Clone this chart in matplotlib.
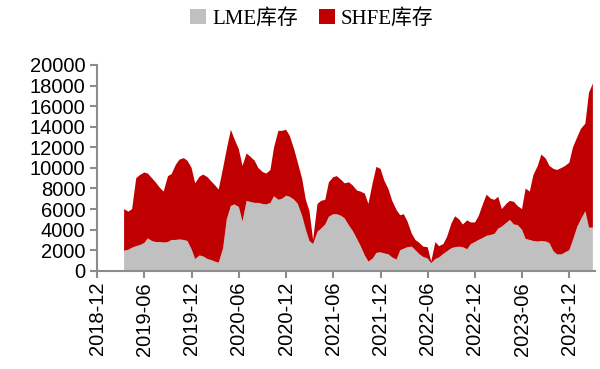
import numpy as np
import pandas as pd
import matplotlib
matplotlib.use("Agg")
import matplotlib.pyplot as plt
import matplotlib.dates as mdates
from matplotlib.patches import Patch
from matplotlib.font_manager import FontProperties

# semi-monthly points, 2019-03-15 .. 2024-03-01
dates = pd.date_range("2019-03-15", "2024-03-01", freq="SMS")

lme = [1950, 2050, 2250, 2400, 2500, 2700, 3150, 2900, 2800, 2800,
       2750, 2800, 3000, 3000, 3050, 3000, 2900, 2100, 1150, 1500,
       1400, 1150, 1050, 900, 800, 2200, 5000, 6300, 6450, 6200,
       4800, 6800, 6700, 6600, 6600, 6500, 6450, 6600, 7250, 6900,
       7000, 7300, 7200, 6900, 6500, 5300, 4000, 2900, 2600, 3800,
       4100, 4500, 5250, 5500, 5500, 5350, 5100, 4400, 3900, 3100,
       2400, 1500, 900, 1200, 1750, 1800, 1700, 1600, 1300, 1100,
       2000, 2150, 2300, 2350, 2000, 1600, 1350, 1200, 750, 1150,
       1300, 1650, 1900, 2200, 2300, 2350, 2300, 2100, 2600, 2800,
       3000, 3200, 3400, 3500, 3600, 4100, 4300, 4650, 4950, 4500,
       4450, 4000, 3100, 3000, 2900, 2850, 2900, 2850, 2700, 1900,
       1600, 1600, 1800, 2000, 3000, 4300, 5000, 5800, 4200, 4200]

shfe = [4050, 3700, 3750, 6600, 6800, 6850, 6300, 6100, 5800, 5250,
        4950, 6400, 6400, 7300, 7750, 7950, 7800, 7900, 7350, 7650,
        7950, 7950, 7650, 7400, 7100, 7800, 6800, 7400, 6350, 5600,
        5400, 4600, 4400, 4100, 3400, 3100, 3000, 3200, 4750, 6700,
        6600, 6400, 5900, 4900, 4000, 3600, 2900, 2900, 400, 2700,
        2700, 2400, 3350, 3600, 3700, 3500, 3400, 4200, 4400, 4700,
        5300, 6000, 5600, 7400, 8350, 8100, 7100, 6300, 5500, 4800,
        3400, 3350, 2500, 1250, 1000, 1100, 1000, 1100, 150, 1650,
        1100, 950, 1400, 2400, 3000, 2650, 2200, 2800, 2100, 1900,
        2300, 3300, 4000, 3500, 3300, 3100, 1700, 1850, 1850, 2200,
        1850, 2000, 4900, 4700, 6400, 7350, 8400, 8050, 7500, 8000,
        8200, 8400, 8400, 8500, 9000, 8700, 8800, 8500, 13100, 14000]

labels = ["LME库存", "SHFE库存"]
colors = ["#C0C0C0", "#C00000"]

plt.rcParams['font.family'] = ['Liberation Sans', 'Noto Sans CJK SC']

fig = plt.figure(figsize=(6, 3.69), dpi=100)
ax = fig.add_axes([0.162, 0.266, 0.83, 0.558])

ax.stackplot(dates, lme, shfe, colors=colors, linewidth=0)

ax.set_xlim(pd.Timestamp("2018-12-01"), pd.Timestamp("2024-03-10"))
ax.set_ylim(0, 20000)
ax.set_yticks(np.arange(0, 20001, 2000))
ax.xaxis.set_major_locator(mdates.MonthLocator(bymonth=[6, 12]))
ax.xaxis.set_major_formatter(mdates.DateFormatter("%Y-%m"))
plt.setp(ax.get_xticklabels(), rotation=90)

for s in ["top", "right"]:
    ax.spines[s].set_visible(False)
for s in ["left", "bottom"]:
    ax.spines[s].set_color("#8c8c8c")
    ax.spines[s].set_linewidth(1.5)
ax.tick_params(axis="both", direction="out", length=5, width=1.5,
               color="#8c8c8c", labelsize=14.5, labelcolor="black")
ax.tick_params(axis="x", pad=3)

handles = [Patch(facecolor=c, edgecolor="none") for c in colors]
fig.legend(handles, labels, loc="center", bbox_to_anchor=(0.52, 0.95),
           ncol=2, frameon=False, handlelength=0.75, handleheight=0.75,
           handletextpad=0.3, columnspacing=1.0,
           prop=FontProperties(family=['Liberation Serif', 'Noto Sans CJK SC'], size=15))

fig.savefig("out.png", dpi=100)
